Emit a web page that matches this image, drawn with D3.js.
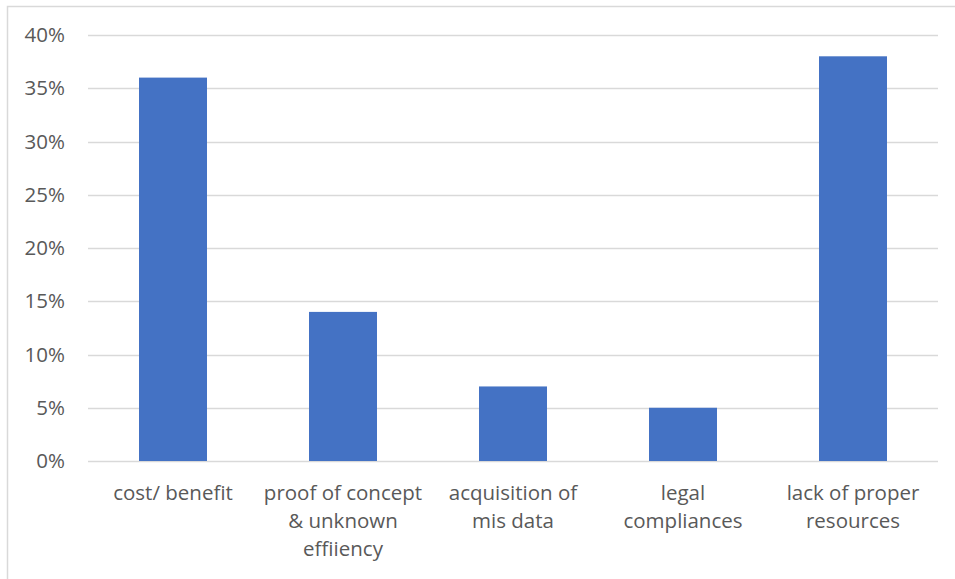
<!DOCTYPE html>
<html>
<head>
<meta charset="utf-8">
<script src="https://cdn.jsdelivr.net/npm/d3@7"></script>
<style>
  html, body { margin: 0; padding: 0; background: #fff; }
  svg { display: block; }
</style>
</head>
<body>
<svg id="chart" width="955" height="579"></svg>
<script>
// Categories (each label split into its wrapped lines)
const categories = [
  ["cost/ benefit"],
  ["proof of concept", "& unknown", "effiiency"],
  ["acquisition of", "mis data"],
  ["legal", "compliances"],
  ["lack of proper", "resources"]
];
// Share of responses, in percent
const values = [36, 14, 7, 5, 38];
// Y-axis ticks, in percent
const yTicks = [0, 5, 10, 15, 20, 25, 30, 35, 40];

const W = 955, H = 579;
const margin = { left: 88, right: 17, top: 35, bottom: 118 };
const font = "'Open Sans', 'Noto Sans', sans-serif";
const textColor = "#595959";
const gridColor = "#d9d9d9";
const barColor = "#4472c4";

const svg = d3.select("#chart");

// chart frame
svg.append("rect")
  .attr("x", 7.5).attr("y", 6.5)
  .attr("width", W + 10).attr("height", H + 10)
  .attr("fill", "#fff")
  .attr("stroke", gridColor).attr("stroke-width", 1.5);

const x = d3.scaleBand()
  .domain(d3.range(categories.length))
  .range([margin.left, W - margin.right])
  .paddingInner(0.6)
  .paddingOuter(0.3);

const y = d3.scaleLinear()
  .domain([0, 40])
  .range([H - margin.bottom, margin.top]);

// gridlines
svg.append("g")
  .selectAll("line")
  .data(yTicks)
  .join("line")
  .attr("x1", margin.left).attr("x2", W - margin.right)
  .attr("y1", d => Math.round(y(d)) + 0.5).attr("y2", d => Math.round(y(d)) + 0.5)
  .attr("stroke", gridColor).attr("stroke-width", 1.3);

// y axis labels
const yAxis = d3.axisLeft(y)
  .tickValues(yTicks)
  .tickFormat(d => d + "%")
  .tickSize(0)
  .tickPadding(0);

const gy = svg.append("g")
  .attr("transform", `translate(${margin.left - 23},0)`)
  .call(yAxis);
gy.select(".domain").remove();
gy.selectAll("text")
  .attr("font-family", font)
  .attr("font-size", 20.5)
  .attr("fill", textColor);

// bars
svg.append("g")
  .selectAll("rect")
  .data(values)
  .join("rect")
  .attr("x", (d, i) => x(i))
  .attr("width", x.bandwidth())
  .attr("y", d => y(d))
  .attr("height", d => y(0) - y(d))
  .attr("fill", barColor);

// category labels
const gx = svg.append("g");
categories.forEach((lines, i) => {
  const cx = x(i) + x.bandwidth() / 2;
  const t = gx.append("text")
    .attr("text-anchor", "middle")
    .attr("font-family", font)
    .attr("font-size", 20.5)
    .attr("fill", textColor);
  lines.forEach((line, j) => {
    t.append("tspan")
      .attr("x", cx)
      .attr("y", y(0) + 39 + j * 28)
      .text(line);
  });
});
</script>
</body>
</html>
